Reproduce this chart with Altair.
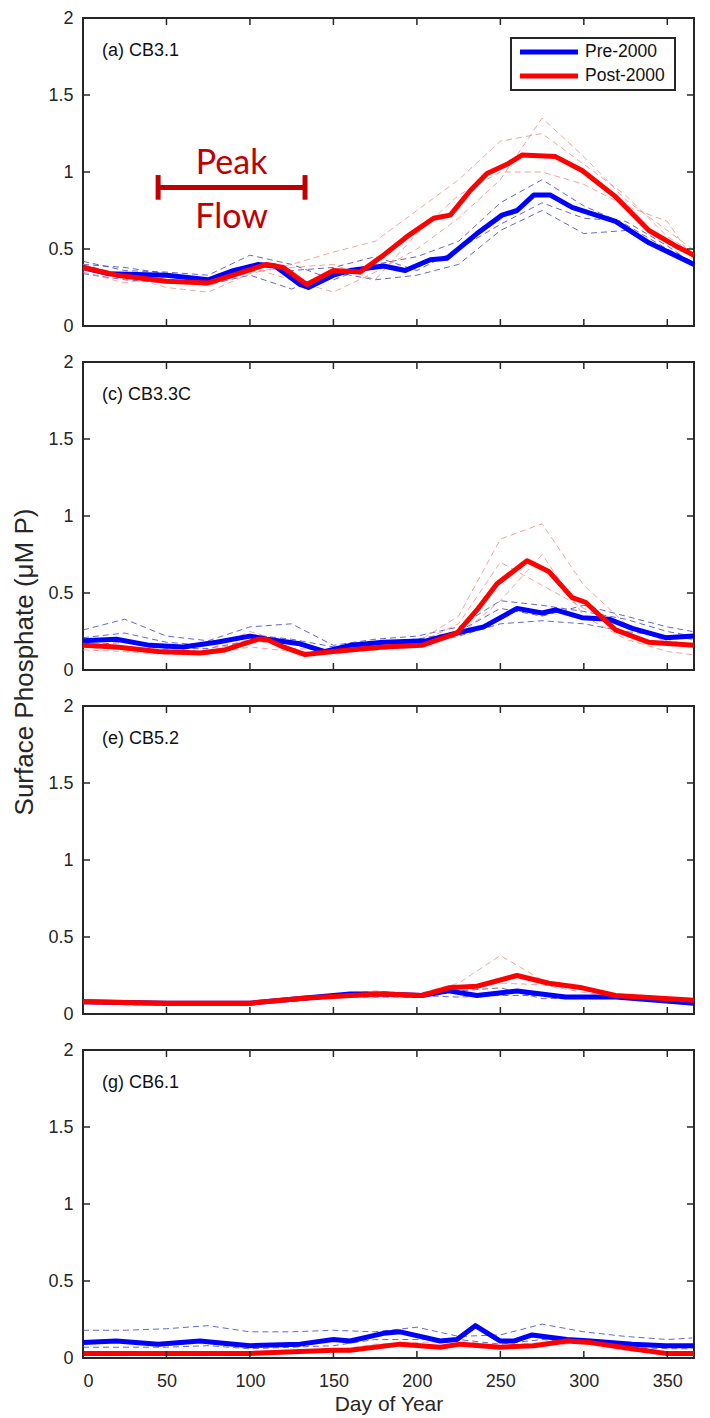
import altair as alt
import pandas as pd

W, H = 611, 308
FONT = "Liberation Sans"
INK = "#262626"
BLUE = "#0000FF"
RED = "#FF0000"
DASH_BLUE = "#3434b4"
DASH_RED = "#f07a7a"
ANNOT = "#C00000"

X_TICKS = [0, 50, 100, 150, 200, 250, 300, 350]
Y_TICKS = [0, 0.5, 1, 1.5, 2]
PANEL_LABELS = ["(a) CB3.1", "(c) CB3.3C", "(e) CB5.2", "(g) CB6.1"]
SERIES = ["Pre-2000", "Post-2000"]

# ---- main (thick) climatology lines ----
A_PRE_DAYS = [0, 15, 50, 75, 90, 105, 115, 130, 135, 150, 160, 180, 193, 208, 218, 236, 251, 260, 270, 280, 293, 319, 339, 366]
A_PRE = [0.38, 0.34, 0.33, 0.30, 0.36, 0.40, 0.39, 0.27, 0.25, 0.33, 0.36, 0.39, 0.36, 0.43, 0.44, 0.60, 0.72, 0.75, 0.85, 0.85, 0.77, 0.68, 0.54, 0.40]
A_POST_DAYS = [0, 20, 50, 75, 90, 110, 120, 134, 150, 166, 180, 194, 210, 220, 232, 242, 254, 263, 283, 299, 319, 339, 355, 366]
A_POST = [0.38, 0.33, 0.29, 0.28, 0.33, 0.40, 0.38, 0.27, 0.36, 0.35, 0.46, 0.58, 0.70, 0.72, 0.88, 0.99, 1.05, 1.11, 1.10, 1.01, 0.84, 0.62, 0.52, 0.46]

C_PRE_DAYS = [0, 20, 40, 60, 80, 100, 110, 130, 145, 160, 180, 206, 224, 240, 260, 275, 283, 299, 315, 329, 349, 366]
C_PRE = [0.19, 0.20, 0.16, 0.15, 0.18, 0.22, 0.20, 0.17, 0.12, 0.16, 0.18, 0.19, 0.24, 0.28, 0.40, 0.37, 0.39, 0.34, 0.33, 0.27, 0.21, 0.22]
C_POST_DAYS = [0, 20, 45, 70, 85, 105, 110, 120, 133, 150, 160, 180, 203, 224, 236, 248, 266, 279, 293, 301, 319, 339, 366]
C_POST = [0.16, 0.15, 0.12, 0.11, 0.13, 0.20, 0.20, 0.15, 0.10, 0.12, 0.13, 0.15, 0.16, 0.24, 0.39, 0.56, 0.71, 0.64, 0.47, 0.44, 0.26, 0.18, 0.16]

E_PRE_DAYS = [0, 50, 100, 130, 160, 180, 203, 219, 236, 260, 289, 319, 366]
E_PRE = [0.08, 0.07, 0.07, 0.10, 0.13, 0.13, 0.12, 0.15, 0.12, 0.15, 0.11, 0.11, 0.07]
E_POST_DAYS = [0, 50, 100, 130, 160, 180, 203, 219, 236, 260, 279, 299, 319, 366]
E_POST = [0.08, 0.07, 0.07, 0.10, 0.12, 0.13, 0.12, 0.17, 0.18, 0.25, 0.20, 0.17, 0.12, 0.09]

G_PRE_DAYS = [0, 20, 45, 70, 100, 130, 150, 160, 180, 190, 214, 224, 235, 250, 258, 269, 290, 304, 329, 349, 366]
G_PRE = [0.10, 0.11, 0.09, 0.11, 0.08, 0.09, 0.12, 0.11, 0.16, 0.17, 0.11, 0.12, 0.21, 0.11, 0.11, 0.15, 0.12, 0.11, 0.09, 0.08, 0.08]
G_POST_DAYS = [0, 100, 150, 160, 190, 214, 226, 250, 270, 290, 304, 329, 349, 366]
G_POST = [0.03, 0.03, 0.05, 0.05, 0.09, 0.07, 0.09, 0.07, 0.08, 0.11, 0.10, 0.06, 0.03, 0.03]

# ---- individual years (thin dashed) ----
YEAR_DAYS = [0, 25, 50, 75, 100, 125, 150, 175, 200, 225, 250, 275, 300, 325, 350, 365]

A_PRE_YEARS = [
    [0.42, 0.36, 0.35, 0.33, 0.46, 0.40, 0.30, 0.40, 0.45, 0.55, 0.80, 0.95, 0.78, 0.66, 0.50, 0.42],
    [0.34, 0.30, 0.28, 0.27, 0.33, 0.24, 0.35, 0.30, 0.33, 0.40, 0.62, 0.75, 0.60, 0.62, 0.47, 0.40],
    [0.40, 0.38, 0.34, 0.29, 0.40, 0.36, 0.38, 0.45, 0.36, 0.50, 0.66, 0.80, 0.70, 0.68, 0.52, 0.41],
]
A_POST_YEARS = [
    [0.40, 0.33, 0.25, 0.22, 0.34, 0.40, 0.48, 0.55, 0.75, 0.95, 1.20, 1.25, 1.05, 0.85, 0.58, 0.48],
    [0.35, 0.28, 0.32, 0.30, 0.38, 0.30, 0.22, 0.35, 0.50, 0.70, 0.95, 1.35, 1.10, 0.82, 0.62, 0.50],
    [0.38, 0.34, 0.30, 0.26, 0.35, 0.38, 0.40, 0.30, 0.60, 0.85, 1.00, 1.00, 0.92, 0.78, 0.68, 0.44],
]
C_PRE_YEARS = [
    [0.26, 0.33, 0.22, 0.19, 0.28, 0.30, 0.16, 0.20, 0.22, 0.28, 0.45, 0.42, 0.38, 0.33, 0.25, 0.22],
    [0.16, 0.18, 0.14, 0.14, 0.19, 0.17, 0.12, 0.14, 0.16, 0.22, 0.30, 0.32, 0.30, 0.25, 0.22, 0.20],
    [0.21, 0.24, 0.18, 0.16, 0.23, 0.20, 0.15, 0.18, 0.20, 0.25, 0.40, 0.35, 0.42, 0.35, 0.28, 0.25],
]
C_POST_YEARS = [
    [0.18, 0.15, 0.13, 0.13, 0.25, 0.17, 0.10, 0.15, 0.18, 0.35, 0.85, 0.95, 0.55, 0.30, 0.18, 0.17],
    [0.13, 0.12, 0.10, 0.10, 0.15, 0.12, 0.11, 0.13, 0.15, 0.22, 0.45, 0.75, 0.35, 0.20, 0.12, 0.10],
    [0.15, 0.13, 0.12, 0.12, 0.20, 0.14, 0.13, 0.16, 0.17, 0.30, 0.70, 0.55, 0.40, 0.30, 0.20, 0.15],
]
E_PRE_YEARS = [
    [0.07, 0.06, 0.06, 0.07, 0.07, 0.08, 0.11, 0.11, 0.11, 0.15, 0.17, 0.10, 0.10, 0.10, 0.08, 0.07],
    [0.08, 0.07, 0.07, 0.07, 0.08, 0.09, 0.12, 0.12, 0.12, 0.11, 0.12, 0.12, 0.12, 0.10, 0.08, 0.07],
]
E_POST_YEARS = [
    [0.08, 0.07, 0.07, 0.07, 0.07, 0.09, 0.13, 0.15, 0.13, 0.20, 0.38, 0.22, 0.16, 0.11, 0.09, 0.08],
    [0.08, 0.07, 0.07, 0.07, 0.07, 0.09, 0.12, 0.12, 0.11, 0.18, 0.20, 0.19, 0.14, 0.10, 0.09, 0.09],
]
G_PRE_YEARS = [
    [0.18, 0.18, 0.19, 0.21, 0.17, 0.17, 0.18, 0.17, 0.20, 0.14, 0.15, 0.22, 0.17, 0.14, 0.12, 0.13],
    [0.07, 0.07, 0.07, 0.08, 0.06, 0.07, 0.08, 0.12, 0.12, 0.12, 0.09, 0.12, 0.10, 0.07, 0.06, 0.06],
]
G_POST_YEARS = [
    [0.02, 0.02, 0.02, 0.03, 0.03, 0.03, 0.05, 0.08, 0.08, 0.08, 0.06, 0.08, 0.10, 0.05, 0.02, 0.02],
    [0.04, 0.04, 0.04, 0.04, 0.04, 0.05, 0.05, 0.09, 0.10, 0.11, 0.08, 0.10, 0.12, 0.08, 0.04, 0.04],
]

# ---- Peak Flow annotation (panel a) ----
PEAK_LABELS = ["Peak", "Flow"]
PEAK_LABEL_DAY = [89, 89]
PEAK_LABEL_VAL = [1.05, 0.70]
PEAK_START, PEAK_END, PEAK_LEVEL = 45, 133, 0.9
PEAK_CAP_LOW, PEAK_CAP_HIGH = 0.82, 0.98

Y_TITLE = "Surface Phosphate (\u03bcM P)"
X_TITLE = "Day of Year"

one = pd.DataFrame({"k": [0]})


def years_df(years):
    rows = []
    for r, vals in enumerate(years):
        for d, v in zip(YEAR_DAYS, vals):
            rows.append({"day": d, "value": v, "run": r})
    return pd.DataFrame(rows)


def make_panel(idx, pre_d, pre_v, post_d, post_v, pre_years, post_years, bottom=False):
    if bottom:
        xaxis = alt.Axis(values=X_TICKS, ticks=False, domain=False, grid=False,
                         labelFontSize=18, labelPadding=14, labelColor=INK, labelFont=FONT,
                         title=X_TITLE, titleFontSize=21, titleFontWeight="normal",
                         titleColor=INK, titleFont=FONT, titlePadding=3)
    else:
        xaxis = None
    xscale = alt.Scale(domain=[0, 366], nice=False, zero=False)
    yscale = alt.Scale(domain=[0, 2], nice=False)
    yaxis = alt.Axis(values=Y_TICKS, format="~g", ticks=False, domain=False, grid=False,
                     labelFontSize=18, labelPadding=10, labelColor=INK, labelFont=FONT, title=None)

    X = alt.X("day:Q", scale=xscale, axis=xaxis)
    Y = alt.Y("value:Q", scale=yscale, axis=yaxis)

    layers = []
    layers.append(alt.Chart(years_df(pre_years)).mark_line(
        strokeDash=[6, 4], strokeWidth=1, color=DASH_BLUE, opacity=0.75
    ).encode(x=X, y=Y, detail="run:N"))
    layers.append(alt.Chart(years_df(post_years)).mark_line(
        strokeDash=[6, 4], strokeWidth=1, color=DASH_RED, opacity=0.7
    ).encode(x=X, y=Y, detail="run:N"))
    layers.append(alt.Chart(pd.DataFrame({"day": pre_d, "value": pre_v})).mark_line(
        strokeWidth=5, color=BLUE, strokeJoin="round"
    ).encode(x=X, y=Y))
    layers.append(alt.Chart(pd.DataFrame({"day": post_d, "value": post_v})).mark_line(
        strokeWidth=5, color=RED, strokeJoin="round"
    ).encode(x=X, y=Y))

    # inward ticks on all four sides
    xt = pd.DataFrame({"day": X_TICKS})
    yt = pd.DataFrame({"value": Y_TICKS})
    tick_style = dict(color=INK, strokeWidth=1.5)
    layers.append(alt.Chart(xt).mark_rule(**tick_style).encode(x=X, y=alt.value(0), y2=alt.value(7)))
    layers.append(alt.Chart(xt).mark_rule(**tick_style).encode(x=X, y=alt.value(H - 7), y2=alt.value(H)))
    layers.append(alt.Chart(yt).mark_rule(**tick_style).encode(y=Y, x=alt.value(0), x2=alt.value(7)))
    layers.append(alt.Chart(yt).mark_rule(**tick_style).encode(y=Y, x=alt.value(W - 7), x2=alt.value(W)))

    # panel label
    layers.append(alt.Chart(one).mark_text(
        align="left", baseline="middle", fontSize=18, font=FONT, color="#111111"
    ).encode(x=alt.value(19), y=alt.value(33), text=alt.value(PANEL_LABELS[idx])))

    if idx == 0:
        # legend box
        layers.append(alt.Chart(one).mark_rect(
            fill="white", stroke=INK, strokeWidth=2
        ).encode(x=alt.value(428), x2=alt.value(592), y=alt.value(20), y2=alt.value(72)))
        for name, col, yy in [(SERIES[0], BLUE, 34), (SERIES[1], RED, 58)]:
            layers.append(alt.Chart(one).mark_rule(color=col, strokeWidth=5).encode(
                x=alt.value(437), x2=alt.value(495), y=alt.value(yy)))
            layers.append(alt.Chart(one).mark_text(
                align="left", baseline="middle", fontSize=17.5, font=FONT, color="#111111"
            ).encode(x=alt.value(502), y=alt.value(yy), text=alt.value(name)))
        # Peak Flow annotation
        pk = pd.DataFrame({"day": PEAK_LABEL_DAY, "value": PEAK_LABEL_VAL, "label": PEAK_LABELS})
        layers.append(alt.Chart(pk).mark_text(
            fontSize=34, font="Lato", color=ANNOT, baseline="middle", align="center"
        ).encode(x=X, y=Y, text="label:N"))
        bar = pd.DataFrame({"day": [PEAK_START], "day2": [PEAK_END], "value": [PEAK_LEVEL]})
        layers.append(alt.Chart(bar).mark_rule(color=ANNOT, strokeWidth=5).encode(
            x=X, x2="day2:Q", y=Y))
        caps = pd.DataFrame({"day": [PEAK_START, PEAK_END],
                             "value": [PEAK_CAP_LOW, PEAK_CAP_LOW],
                             "value2": [PEAK_CAP_HIGH, PEAK_CAP_HIGH]})
        layers.append(alt.Chart(caps).mark_rule(color=ANNOT, strokeWidth=5).encode(
            x=X, y=Y, y2="value2:Q"))

    if idx == 1:
        layers.append(alt.Chart(one).mark_text(
            angle=270, fontSize=26, font=FONT, color=INK, baseline="middle", align="center"
        ).encode(x=alt.value(-58), y=alt.value(300), text=alt.value(Y_TITLE)))

    return alt.layer(*layers).properties(width=W, height=H)


panels = [
    make_panel(0, A_PRE_DAYS, A_PRE, A_POST_DAYS, A_POST, A_PRE_YEARS, A_POST_YEARS),
    make_panel(1, C_PRE_DAYS, C_PRE, C_POST_DAYS, C_POST, C_PRE_YEARS, C_POST_YEARS),
    make_panel(2, E_PRE_DAYS, E_PRE, E_POST_DAYS, E_POST, E_PRE_YEARS, E_POST_YEARS),
    make_panel(3, G_PRE_DAYS, G_PRE, G_POST_DAYS, G_POST, G_PRE_YEARS, G_POST_YEARS, bottom=True),
]

chart = alt.vconcat(*panels, spacing=36, bounds="flush").properties(
    padding={"left": 3, "top": 0, "right": 2, "bottom": 0},
    background="white",
).configure_view(stroke=INK, strokeWidth=2)

chart.save("out.html", embed_options={"renderer": "svg", "actions": False})
